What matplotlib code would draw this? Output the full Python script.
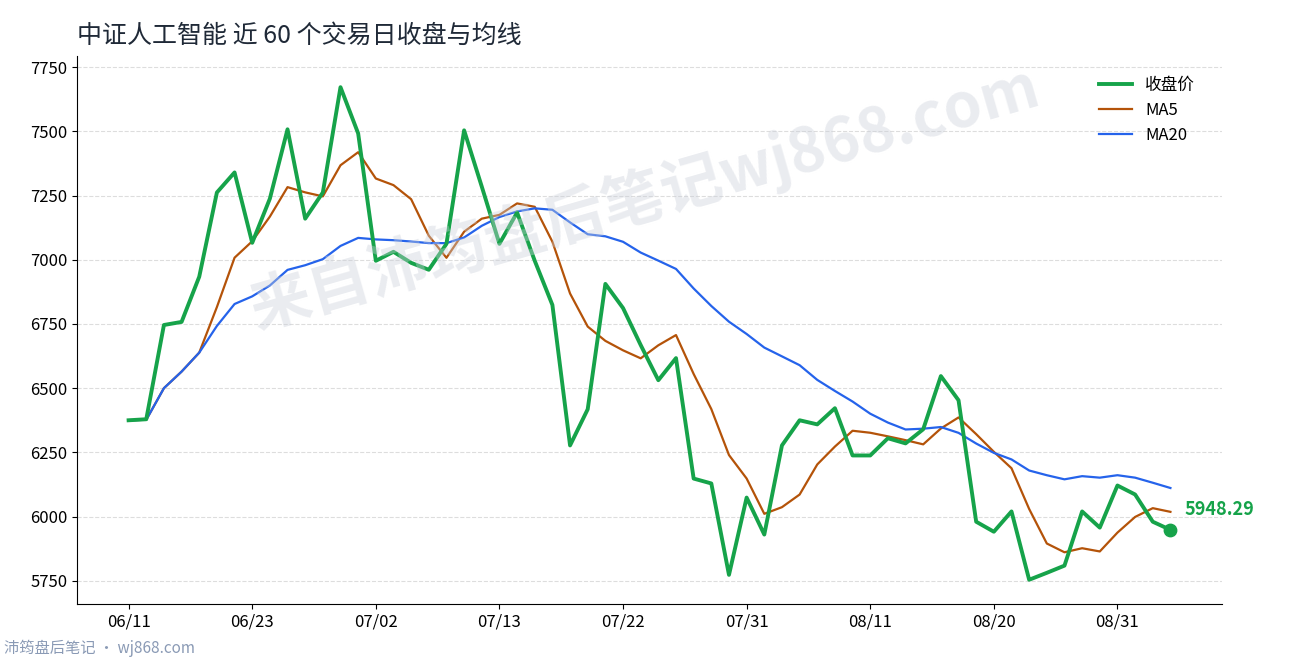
import matplotlib
matplotlib.use("Agg")
import matplotlib.pyplot as plt
import pandas as pd

plt.rcParams['font.family'] = ['Noto Sans CJK SC', 'DejaVu Sans']

close = [6375, 6379, 6746, 6758, 6934, 7262, 7340, 7066, 7238, 7508,
         7160, 7262, 7672, 7492, 6996, 7031, 6988, 6961, 7062, 7504,
         7285, 7062, 7184, 6996, 6824, 6277, 6418, 6906, 6812, 6668,
         6531, 6617, 6148, 6129, 5773, 6074, 5930, 6277, 6375, 6359,
         6422, 6238, 6238, 6305, 6285, 6340, 6547, 6453, 5980, 5941,
         6020, 5754, 5781, 5809, 6020, 5957, 6121, 6086, 5980, 5948.29]
tick_pos = [0, 7, 14, 21, 28, 35, 42, 49, 56]
tick_labels = ['06/11', '06/23', '07/02', '07/13', '07/22', '07/31', '08/11', '08/20', '08/31']

s = pd.Series(close)
ma5 = s.rolling(5, min_periods=1).mean()
ma20 = s.rolling(20, min_periods=1).mean()
x = list(range(len(close)))

fig = plt.figure(figsize=(12.9, 6.6), dpi=100)
ax = fig.add_axes([0.06, 0.085, 0.887, 0.83])
ax.plot(x, close, color='#16a34a', lw=2.8, label='收盘价', zorder=4)
ax.plot(x, ma5, color='#b45309', lw=1.6, label='MA5', zorder=3)
ax.plot(x, ma20, color='#2563eb', lw=1.6, label='MA20', zorder=3)
ax.scatter([x[-1]], [close[-1]], s=80, color='#16a34a', zorder=5)
ax.annotate(f'{close[-1]:.2f}', (x[-1], close[-1]), xytext=(10, 8), textcoords='offset points',
            color='#16a34a', fontsize=13, fontweight='bold', va='bottom')

ax.set_xlim(-2.9, 61.9)
ax.set_ylim(5660, 7793)
ax.set_yticks(range(5750, 7751, 250))
ax.set_xticks(tick_pos)
ax.set_xticklabels(tick_labels)
ax.tick_params(labelsize=12)
ax.grid(axis='y', ls='--', color='#dddddd', lw=0.8)
for sp in ['top', 'right']:
    ax.spines[sp].set_visible(False)
leg = ax.legend(loc='upper right', frameon=False, fontsize=12, bbox_to_anchor=(0.99, 0.99))

fig.text(0.06, 0.945, '中证人工智能 近 60 个交易日收盘与均线', fontsize=18, color='#1f2937', va='center')
fig.text(0.5, 0.70, '来自沛筠盘后笔记wj868.com', fontsize=44, color='#cbd0da', alpha=0.4,
         rotation=16, ha='center', va='center', fontweight='bold')
fig.text(0.003, 0.018, '沛筠盘后笔记 · wj868.com', fontsize=11, color='#8a9ab5', va='center')
fig.savefig('out.png', dpi=100)
